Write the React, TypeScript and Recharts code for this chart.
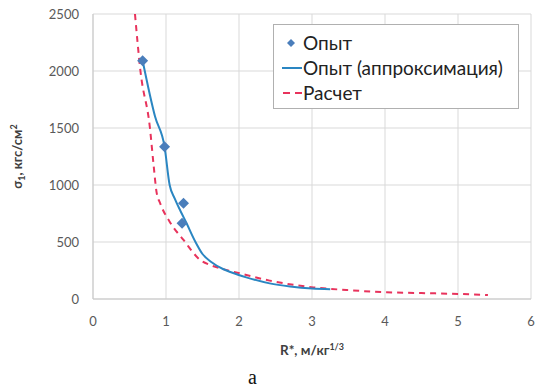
import {
  ComposedChart,
  Line,
  Scatter,
  XAxis,
  YAxis,
  CartesianGrid,
  Legend,
} from 'recharts'

// Опыт (measured points)
const expR = [0.68, 0.98, 1.24, 1.22]
const expSigma = [2090, 1336, 840, 665]

// Опыт (аппроксимация)
const approxR = [0.68, 0.85, 0.98, 1.05, 1.12, 1.2, 1.28, 1.4, 1.5, 1.62, 1.78, 1.9, 2.1, 2.42, 2.7, 3.0, 3.25]
const approxSigma = [2090, 1600, 1336, 1000, 880, 770, 667, 505, 395, 325, 263, 232, 190, 137, 110, 92, 86]

// Расчет
const calcR = [0.575, 0.65, 0.78, 0.83, 0.87, 0.92, 1.05, 1.24, 1.47, 1.6, 1.78, 2.01, 2.42, 3.02, 3.47, 4.02, 4.5, 5.03, 5.41]
const calcSigma = [2500, 2000, 1500, 1175, 940, 840, 678, 518, 342, 300, 263, 225, 161, 102, 79, 59, 52, 44, 35]

const xTicks = [0, 1, 2, 3, 4, 5, 6]
const yTicks = [0, 500, 1000, 1500, 2000, 2500]

const toPoints = (xs: number[], ys: number[]) => xs.map((x, i) => ({ x, y: ys[i] }))

const expData = toPoints(expR, expSigma)
const approxData = toPoints(approxR, approxSigma)
const calcData = toPoints(calcR, calcSigma)

const BLUE_PT = '#4a7ebb'
const BLUE_LINE = '#2a86c2'
const RED = '#e8335c'
const FONT = 'Lato, "Open Sans", sans-serif'

const Diamond = (props: any) => {
  const { cx, cy } = props
  const r = 5.5
  return (
    <polygon
      points={`${cx},${cy - r} ${cx + r},${cy} ${cx},${cy + r} ${cx - r},${cy}`}
      fill={BLUE_PT}
    />
  )
}

const LegendBox = () => {
  const rows = [
    { name: 'Опыт', kind: 'dot' },
    { name: 'Опыт (аппроксимация)', kind: 'line' },
    { name: 'Расчет', kind: 'dash' },
  ]
  return (
    <div
      style={{
        width: 246,
        height: 85,
        border: '1px solid #b0b0b0',
        background: '#fff',
        padding: '5px 0 0 8px',
        fontFamily: FONT,
        fontSize: 19,
        color: '#222',
        boxSizing: 'border-box',
      }}
    >
      {rows.map((r) => (
        <div key={r.name} style={{ display: 'flex', alignItems: 'center', height: 25 }}>
          <svg width={20} height={12} style={{ marginRight: 1 }}>
            {r.kind === 'dot' && <polygon points="9,2 13,6 9,10 5,6" fill={BLUE_PT} />}
            {r.kind === 'line' && <line x1={0} y1={6} x2={20} y2={6} stroke={BLUE_LINE} strokeWidth={2} />}
            {r.kind === 'dash' && (
              <line x1={1} y1={6} x2={20} y2={6} stroke={RED} strokeWidth={2} strokeDasharray="7 5" />
            )}
          </svg>
          <span>{r.name}</span>
        </div>
      ))}
    </div>
  )
}

const XLabel = (props: any) => {
  const { viewBox } = props
  const cx = viewBox.x + viewBox.width / 2
  return (
    <text x={cx} y={355} textAnchor="middle" fontFamily={FONT} fontSize={13.5} fontWeight="bold" fill="#404040">
      R*, м/кг
      <tspan fontSize={9} dy={-5}>1/3</tspan>
    </text>
  )
}

const YLabel = (props: any) => {
  const { viewBox } = props
  const cy = viewBox.y + viewBox.height / 2
  return (
    <text
      x={22}
      y={cy}
      transform={`rotate(-90, 22, ${cy})`}
      textAnchor="middle"
      fontFamily={FONT}
      fontSize={13}
      fontWeight="bold"
      fill="#404040"
    >
      σ<tspan fontSize={9} dy={3}>1</tspan>
      <tspan dy={-3}>, кгс/см</tspan>
      <tspan fontSize={9} dy={-5}>2</tspan>
    </text>
  )
}

export default function App() {
  return (
    <div style={{ position: 'absolute', left: 0, top: 0, width: 536, height: 392, background: '#fff' }}>
      <ComposedChart width={536} height={392} margin={{ top: 14, right: 5, left: 0, bottom: 33 }}>
        <CartesianGrid stroke="#d9d9d9" horizontal vertical />
        <XAxis
          type="number"
          dataKey="x"
          domain={[0, 6]}
          ticks={xTicks}
          height={60}
          stroke="#c8c8c8"
          tickLine={false}
          tickSize={0}
          tickMargin={18}
          tick={{ fill: '#595959', fontSize: 13, fontFamily: FONT }}
          label={<XLabel />}
          allowDataOverflow
        />
        <YAxis
          type="number"
          domain={[0, 2500]}
          ticks={yTicks}
          width={93}
          stroke="#c8c8c8"
          tickLine={false}
          tickSize={0}
          tickMargin={14}
          tick={{ fill: '#595959', fontSize: 13, fontFamily: FONT }}
          label={<YLabel />}
          allowDataOverflow
        />
        <Legend
          layout="horizontal"
          verticalAlign="middle"
          content={<LegendBox />}
          wrapperStyle={{ position: 'absolute', top: 24, left: 273, width: 246 }}
        />
        <Line
          data={calcData}
          dataKey="y"
          type="monotone"
          stroke={RED}
          strokeWidth={2}
          strokeDasharray="6 5"
          dot={false}
          isAnimationActive={false}
        />
        <Line
          data={approxData}
          dataKey="y"
          type="monotone"
          stroke={BLUE_LINE}
          strokeWidth={2}
          dot={false}
          isAnimationActive={false}
        />
        <Scatter data={expData} dataKey="y" shape={<Diamond />} isAnimationActive={false} />
      </ComposedChart>
      <div
        style={{
          position: 'absolute',
          left: 248,
          top: 366,
          fontFamily: '"Liberation Serif", serif',
          fontSize: 20,
          color: '#111',
        }}
      >
        а
      </div>
    </div>
  )
}
